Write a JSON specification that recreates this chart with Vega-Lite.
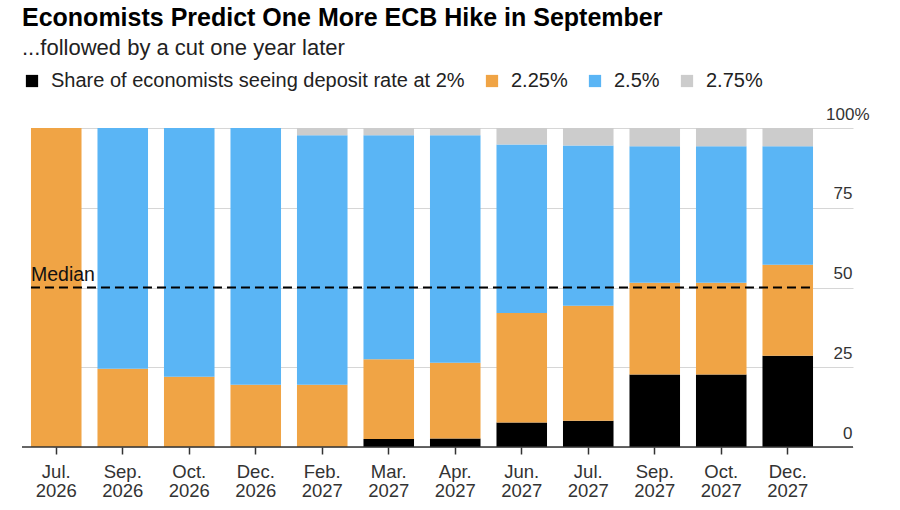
{
  "$schema": "https://vega.github.io/schema/vega-lite/v6.json",
  "autosize": {"type": "none"},
  "width": 831,
  "height": 319,
  "padding": {"left": 22, "top": 128, "right": 47, "bottom": 63},
  "background": "white",
  "config": {
    "font": "Liberation Sans",
    "view": {"stroke": null},
    "axis": {"labelFont": "Liberation Sans", "labelColor": "#333333", "labelFontSize": 17}
  },
  "title": {
    "text": "Economists Predict One More ECB Hike in September",
    "subtitle": "...followed by a cut one year later",
    "anchor": "start",
    "frame": "group",
    "dx": 0,
    "offset": 12,
    "fontSize": 25,
    "fontWeight": "bold",
    "color": "#000000",
    "subtitleFontSize": 22,
    "subtitleColor": "#222222",
    "subtitlePadding": 7
  },
  "data": {
    "values": [
      {"month": "Jul. 2026", "rate": "2%", "share": 0},
      {"month": "Jul. 2026", "rate": "2.25%", "share": 100},
      {"month": "Jul. 2026", "rate": "2.5%", "share": 0},
      {"month": "Jul. 2026", "rate": "2.75%", "share": 0},
      {"month": "Sep. 2026", "rate": "2%", "share": 0},
      {"month": "Sep. 2026", "rate": "2.25%", "share": 24.5},
      {"month": "Sep. 2026", "rate": "2.5%", "share": 75.5},
      {"month": "Sep. 2026", "rate": "2.75%", "share": 0},
      {"month": "Oct. 2026", "rate": "2%", "share": 0},
      {"month": "Oct. 2026", "rate": "2.25%", "share": 22},
      {"month": "Oct. 2026", "rate": "2.5%", "share": 78},
      {"month": "Oct. 2026", "rate": "2.75%", "share": 0},
      {"month": "Dec. 2026", "rate": "2%", "share": 0},
      {"month": "Dec. 2026", "rate": "2.25%", "share": 19.5},
      {"month": "Dec. 2026", "rate": "2.5%", "share": 80.5},
      {"month": "Dec. 2026", "rate": "2.75%", "share": 0},
      {"month": "Feb. 2027", "rate": "2%", "share": 0},
      {"month": "Feb. 2027", "rate": "2.25%", "share": 19.5},
      {"month": "Feb. 2027", "rate": "2.5%", "share": 78.2},
      {"month": "Feb. 2027", "rate": "2.75%", "share": 2.3},
      {"month": "Mar. 2027", "rate": "2%", "share": 2.5},
      {"month": "Mar. 2027", "rate": "2.25%", "share": 25},
      {"month": "Mar. 2027", "rate": "2.5%", "share": 70.2},
      {"month": "Mar. 2027", "rate": "2.75%", "share": 2.3},
      {"month": "Apr. 2027", "rate": "2%", "share": 2.7},
      {"month": "Apr. 2027", "rate": "2.25%", "share": 23.7},
      {"month": "Apr. 2027", "rate": "2.5%", "share": 71.3},
      {"month": "Apr. 2027", "rate": "2.75%", "share": 2.3},
      {"month": "Jun. 2027", "rate": "2%", "share": 7.7},
      {"month": "Jun. 2027", "rate": "2.25%", "share": 34.3},
      {"month": "Jun. 2027", "rate": "2.5%", "share": 52.8},
      {"month": "Jun. 2027", "rate": "2.75%", "share": 5.2},
      {"month": "Jul. 2027", "rate": "2%", "share": 8.2},
      {"month": "Jul. 2027", "rate": "2.25%", "share": 36.1},
      {"month": "Jul. 2027", "rate": "2.5%", "share": 50.2},
      {"month": "Jul. 2027", "rate": "2.75%", "share": 5.5},
      {"month": "Sep. 2027", "rate": "2%", "share": 22.7},
      {"month": "Sep. 2027", "rate": "2.25%", "share": 28.8},
      {"month": "Sep. 2027", "rate": "2.5%", "share": 42.8},
      {"month": "Sep. 2027", "rate": "2.75%", "share": 5.7},
      {"month": "Oct. 2027", "rate": "2%", "share": 22.7},
      {"month": "Oct. 2027", "rate": "2.25%", "share": 28.8},
      {"month": "Oct. 2027", "rate": "2.5%", "share": 42.8},
      {"month": "Oct. 2027", "rate": "2.75%", "share": 5.7},
      {"month": "Dec. 2027", "rate": "2%", "share": 28.6},
      {"month": "Dec. 2027", "rate": "2.25%", "share": 28.5},
      {"month": "Dec. 2027", "rate": "2.5%", "share": 37.2},
      {"month": "Dec. 2027", "rate": "2.75%", "share": 5.7}
    ]
  },
  "layer": [
    {
      "mark": {"type": "bar"},
      "encoding": {
        "x": {
          "field": "month",
          "type": "nominal",
          "scale": {
            "domain": ["Jul. 2026", "Sep. 2026", "Oct. 2026", "Dec. 2026", "Feb. 2027", "Mar. 2027", "Apr. 2027", "Jun. 2027", "Jul. 2027", "Sep. 2027", "Oct. 2027", "Dec. 2027"],
            "range": [0, 800],
            "paddingInner": 0.24,
            "paddingOuter": 0.135
          },
          "axis": {
            "title": null,
            "labelAngle": 0,
            "labelExpr": "split(datum.label, ' ')",
            "labelFontSize": 18.5,
            "labelLineHeight": 19,
            "labelPadding": 8,
            "domain": false,
            "tickColor": "#333333",
            "tickWidth": 1.5,
            "tickSize": 7
          }
        },
        "y": {
          "field": "share",
          "type": "quantitative",
          "stack": "zero",
          "scale": {"domain": [0, 100], "nice": false},
          "axis": {
            "title": null,
            "orient": "right",
            "values": [0, 25, 50, 75, 100],
            "labelExpr": "datum.value == 100 ? '100%' : datum.label",
            "domain": false,
            "ticks": false,
            "grid": true,
            "gridColor": "#d6d6d6",
            "gridWidth": 1,
            "labelAlign": "right",
            "labelBaseline": "alphabetic",
            "labelOffset": -9,
            "labelPadding": {"condition": {"test": "datum.value == 100", "value": 16}, "value": -1}
          }
        },
        "color": {
          "field": "rate",
          "type": "nominal",
          "scale": {
            "domain": ["2%", "2.25%", "2.5%", "2.75%"],
            "range": ["#000000", "#f0a445", "#5ab5f5", "#cccccc"]
          },
          "legend": {
            "title": null,
            "orient": "none",
            "direction": "horizontal",
            "legendX": 0,
            "legendY": -57,
            "symbolType": "square",
            "symbolSize": 150,
            "symbolStrokeWidth": 0,
            "symbolOpacity": 1,
            "labelFontSize": 20,
            "labelColor": "#222222",
            "labelOffset": 9,
            "columnPadding": 17,
            "labelLimit": 600,
            "labelExpr": "datum.label == '2%' ? 'Share of economists seeing deposit rate at 2%' : datum.label"
          }
        },
        "order": {"field": "rate", "sort": "ascending"}
      }
    },
    {
      "data": {"values": [{"v": 0}]},
      "mark": {"type": "rule", "color": "#333333", "strokeWidth": 1.5},
      "encoding": {"y": {"field": "v", "type": "quantitative"}}
    },
    {
      "data": {"values": [{"from": "Jul. 2026", "to": "Dec. 2027", "v": 50}]},
      "mark": {"type": "rule", "color": "#000000", "strokeWidth": 2, "strokeDash": [9, 5]},
      "encoding": {
        "x": {"field": "from", "type": "nominal", "bandPosition": 0},
        "x2": {"field": "to", "bandPosition": 1},
        "y": {"field": "v", "type": "quantitative"}
      }
    },
    {
      "data": {"values": [{"from": "Jul. 2026", "v": 50, "label": "Median"}]},
      "mark": {"type": "text", "align": "left", "baseline": "alphabetic", "dy": -7, "fontSize": 19.5, "color": "#111111"},
      "encoding": {
        "x": {"field": "from", "type": "nominal", "bandPosition": 0},
        "y": {"field": "v", "type": "quantitative"},
        "text": {"field": "label"}
      }
    }
  ]
}
